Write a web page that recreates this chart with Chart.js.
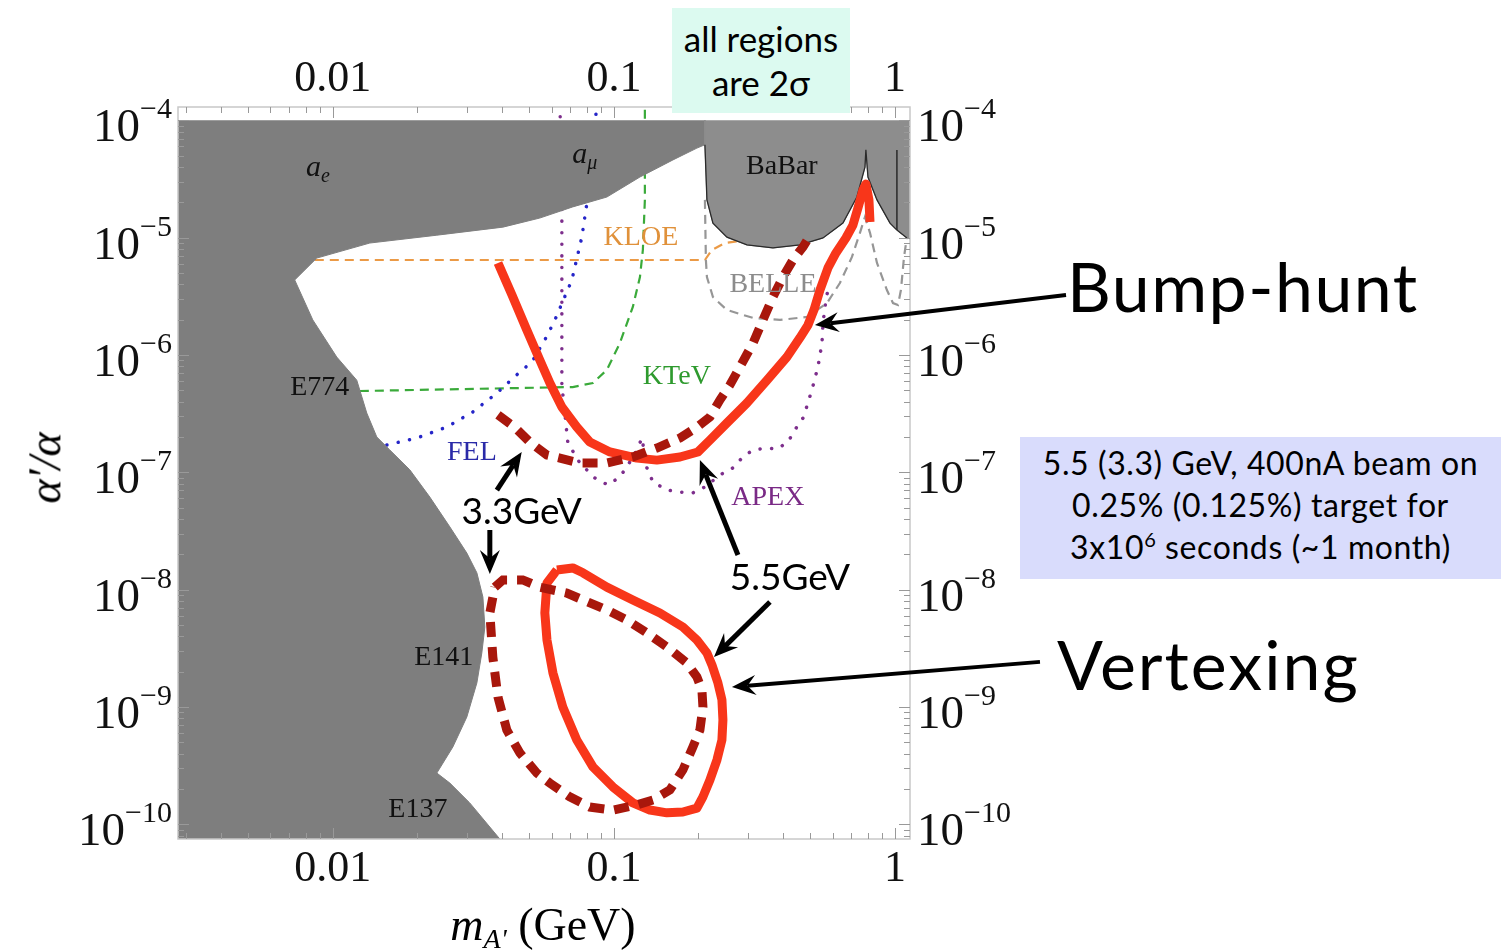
<!DOCTYPE html>
<html><head><meta charset="utf-8">
<script src="https://cdn.jsdelivr.net/npm/chart.js@4.4.1/dist/chart.umd.min.js"></script>
<style>
html,body{margin:0;padding:0;background:#fff;width:1507px;height:950px;overflow:hidden;}
#wrap{position:relative;width:1507px;height:950px;}
canvas{position:absolute;left:0;top:0;}
.note{position:absolute;font-family:Lato,'Open Sans',sans-serif;color:#000;white-space:nowrap;}
.serif{position:absolute;font-family:'Liberation Serif','DejaVu Serif',serif;color:#000;white-space:nowrap;line-height:1.2;}
</style></head><body>
<div id="wrap">
<canvas id="c" width="1507" height="950"></canvas>
<div class="note" style="left:672px;top:8px;width:178px;height:105px;background:#dcfaf0;font-size:35px;line-height:44px;padding-top:8px;box-sizing:border-box;text-align:center">all regions<br>are 2σ</div>
<div class="note" style="left:1020px;top:437px;width:481px;height:142px;background:#d9dcfc;font-size:32px;letter-spacing:0.6px;line-height:42px;padding-top:5px;box-sizing:border-box;text-align:center">5.5 (3.3) GeV, 400nA beam on<br>0.25% (0.125%) target for<br>3x10<sup style="font-size:20px;vertical-align:12px;line-height:0">6</sup> seconds (~1 month)</div>
<div class="note" style="left:1067px;top:245px;font-size:68px;letter-spacing:1.5px;line-height:1.2">Bump-hunt</div>
<div class="note" style="left:1057px;top:623px;font-size:68px;letter-spacing:2px;line-height:1.2">Vertexing</div>
<div class="serif" style="left:45px;top:468px;font-size:46px;font-style:italic;transform:translate(-50%,-50%) rotate(-90deg)">α′/α</div>
<div class="serif" style="left:543px;top:897px;font-size:46px;transform:translateX(-50%)"><i>m</i><sub style="font-size:28px;vertical-align:-8px;line-height:0"><i>A'</i></sub> (GeV)</div>
</div>
<script>
// ---------- axis ticks ----------
const xTickValues = [0.01, 0.1, 1];
const xTickLabels = ['0.01', '0.1', '1'];
const yTickValues = [1e-4, 1e-5, 1e-6, 1e-7, 1e-8, 1e-9, 1e-10];
const yTickExponents = ['\u22124', '\u22125', '\u22126', '\u22127', '\u22128', '\u22129', '\u221210'];

// ---------- excluded regions (filled) ----------
const excludedMass = [0.002, 0.002, 0.0452, 0.0362, 0.0307, 0.0261, 0.02345, 0.02673, 0.02998, 0.03255, 0.0339, 0.03475, 0.0342, 0.03255, 0.02998, 0.0261, 0.02214, 0.01879, 0.01595, 0.01434, 0.01321, 0.01217, 0.01033, 0.00849, 0.00732, 0.00877, 0.01354, 0.02345, 0.0403, 0.0545, 0.0714, 0.0944, 0.1238, 0.1622, 0.1974, 0.2108, 0.2108];
const excludedCoupling = [1e-4, 5e-11, 5e-11, 9.46e-11, 1.52e-10, 2.24e-10, 2.73e-10, 4.55e-10, 8.2e-10, 1.6e-9, 2.88e-9, 4.8e-9, 8.65e-9, 1.39e-8, 2.05e-8, 3.42e-8, 6.15e-8, 1.05e-7, 1.55e-7, 2.0e-7, 3.2e-7, 6.1e-7, 9.6e-7, 1.99e-6, 4.36e-6, 6.7e-6, 9.0e-6, 1.05e-5, 1.23e-5, 1.47e-5, 1.83e-5, 2.22e-5, 3.29e-5, 4.6e-5, 5.8e-5, 6.2e-5, 1e-4];

const babarMass = [0.2108, 0.2108, 0.2143, 0.2251, 0.2524, 0.2974, 0.368, 0.459, 0.5545, 0.653, 0.732, 0.782, 0.788, 0.8015, 0.863, 0.96, 1.016, 1.103, 1.2, 1.2];
const babarCoupling = [1e-4, 6.2e-5, 2.1e-5, 1.33e-5, 1.01e-5, 8.67e-6, 8.17e-6, 8.67e-6, 9.94e-6, 1.33e-5, 2.22e-5, 4.0e-5, 5.6e-5, 3.29e-5, 2.1e-5, 1.33e-5, 1.16e-5, 9.94e-6, 9.3e-6, 1e-4];
const upsilonMass = [1.016, 1.016];
const upsilonCoupling = [5.6e-5, 1.16e-5];

// ---------- existing limits (lines) ----------
const kloeMass = [0.00863, 0.2108, 0.2233, 0.248, 0.30];
const kloeCoupling = [6.45e-6, 6.45e-6, 7.86e-6, 9.0e-6, 9.6e-6];
const ktevMass = [0.01248, 0.0714, 0.0842, 0.0944, 0.105, 0.1168, 0.1238, 0.1268, 0.1289, 0.1289];
const ktevCoupling = [4.93e-7, 5.33e-7, 5.77e-7, 7.45e-7, 1.26e-6, 2.57e-6, 4.62e-6, 7.86e-6, 2.1e-5, 1.35e-4];
const felMass = [0.01557, 0.0199, 0.02544, 0.0315, 0.03835, 0.0463, 0.0511, 0.0578, 0.0617, 0.0709, 0.0769, 0.0802, 0.087];
const felCoupling = [1.71e-7, 1.96e-7, 2.43e-7, 3.27e-7, 4.74e-7, 7.16e-7, 8.71e-7, 1.45e-6, 1.99e-6, 4.36e-6, 1.01e-5, 1.98e-5, 1.35e-4];
const apexMass = [0.0643, 0.0653, 0.0653, 0.0669, 0.0686, 0.0757, 0.0856, 0.0952, 0.105, 0.1122, 0.1208, 0.1258, 0.1311, 0.1377, 0.1544, 0.1718, 0.191, 0.2108, 0.2383, 0.2652, 0.2877, 0.3125, 0.3504, 0.3803, 0.416, 0.4406, 0.4707, 0.4903, 0.5108, 0.532, 0.55, 0.5545, 0.568, 0.582];
const apexCoupling = [1.35e-4, 1.98e-5, 5.55e-7, 3.2e-7, 1.78e-7, 1.2e-7, 8.94e-8, 7.8e-8, 9.12e-8, 1.15e-7, 1.55e-7, 1.96e-7, 1.09e-7, 8.26e-8, 7.06e-8, 6.79e-8, 6.67e-8, 7.5e-8, 9.48e-8, 1.09e-7, 1.35e-7, 1.55e-7, 1.61e-7, 1.58e-7, 1.81e-7, 2.3e-7, 2.9e-7, 3.9e-7, 5.44e-7, 7.9e-7, 1.26e-6, 1.87e-6, 2.94e-6, 3.95e-6];
const belleMass = [0.2108, 0.2125, 0.2143, 0.2251, 0.2524, 0.3125, 0.3898, 0.486, 0.573, 0.637, 0.703, 0.7506, 0.782, 0.815, 0.863, 0.936, 0.9838, 1.025, 1.05, 1.077, 1.112];
const belleCoupling = [2.1e-5, 6.45e-6, 4.62e-6, 3.12e-6, 2.42e-6, 2.07e-6, 1.99e-6, 2.11e-6, 2.77e-6, 4.11e-6, 6.85e-6, 1.1e-5, 1.5e-5, 1.1e-5, 6.09e-6, 3.58e-6, 2.77e-6, 2.67e-6, 3.58e-6, 6.85e-6, 1.16e-5];

// ---------- projected reach ----------
const bump55Mass = [0.0387, 0.0434, 0.049, 0.0545, 0.0592, 0.0653, 0.0738, 0.0821, 0.0968, 0.1208, 0.1422, 0.1718, 0.199, 0.2196, 0.2524, 0.2974, 0.3504, 0.4127, 0.459, 0.4903, 0.515, 0.541, 0.5775, 0.6166, 0.669, 0.7087, 0.7384, 0.7693, 0.788, 0.808, 0.815];
const bump55Coupling = [6.09e-6, 3.25e-6, 1.63e-6, 9.07e-7, 5.77e-7, 3.6e-7, 2.43e-7, 1.81e-7, 1.49e-7, 1.32e-7, 1.27e-7, 1.35e-7, 1.49e-7, 1.88e-7, 2.63e-7, 3.9e-7, 6.1e-7, 9.6e-7, 1.4e-6, 1.8e-6, 2.42e-6, 3.58e-6, 5.52e-6, 7.41e-6, 9.94e-6, 1.28e-5, 1.79e-5, 2.55e-5, 2.87e-5, 2.1e-5, 1.36e-5];
const bump33Mass = [0.0387, 0.0444, 0.0502, 0.0578, 0.0643, 0.0757, 0.0944, 0.1168, 0.1422, 0.1718, 0.1974, 0.2196, 0.2383, 0.2587, 0.2808, 0.3125, 0.339, 0.368, 0.3995, 0.4335, 0.4707, 0.4943];
const bump33Coupling = [3.08e-7, 2.42e-7, 1.81e-7, 1.4e-7, 1.32e-7, 1.2e-7, 1.2e-7, 1.35e-7, 1.61e-7, 1.96e-7, 2.42e-7, 2.96e-7, 4.13e-7, 5.55e-7, 7.9e-7, 1.26e-6, 1.99e-6, 3.12e-6, 4.62e-6, 6.45e-6, 8.33e-6, 1.01e-5];
const vtx55Mass = [0.0627, 0.0714, 0.0776, 0.0944, 0.1168, 0.1458, 0.176, 0.1974, 0.2143, 0.2233, 0.2345, 0.2423, 0.2443, 0.2423, 0.2326, 0.2196, 0.2074, 0.1974, 0.176, 0.1544, 0.1343, 0.1168, 0.0992, 0.0842, 0.0738, 0.0658, 0.0607, 0.0578, 0.0568, 0.0578, 0.0627];
const vtx55Coupling = [1.47e-8, 1.53e-8, 1.39e-8, 1.05e-8, 8.15e-9, 6.32e-9, 4.8e-9, 3.72e-9, 2.88e-9, 2.28e-9, 1.6e-9, 1.15e-9, 7.73e-10, 5.22e-10, 3.53e-10, 2.38e-10, 1.71e-10, 1.37e-10, 1.27e-10, 1.25e-10, 1.32e-10, 1.52e-10, 2.08e-10, 3.08e-10, 5.22e-10, 9.98e-10, 1.95e-9, 3.72e-9, 6.32e-9, 1.14e-8, 1.47e-8];
const vtx33Mass = [0.0377, 0.0403, 0.0474, 0.0545, 0.068, 0.0776, 0.0944, 0.1113, 0.1311, 0.1544, 0.1819, 0.1974, 0.2057, 0.2074, 0.2023, 0.191, 0.176, 0.1582, 0.1377, 0.1208, 0.0992, 0.0821, 0.0697, 0.0592, 0.0532, 0.0463, 0.0416, 0.0387, 0.0371, 0.0362, 0.0377];
const vtx33Coupling = [1.05e-8, 1.21e-8, 1.21e-8, 1.05e-8, 9.35e-9, 8.15e-9, 6.7e-9, 5.5e-9, 4.27e-9, 3.24e-9, 2.37e-9, 1.8e-9, 1.39e-9, 9.98e-10, 6.35e-10, 4.55e-10, 2.9e-10, 1.96e-10, 1.61e-10, 1.46e-10, 1.32e-10, 1.4e-10, 1.71e-10, 2.24e-10, 2.73e-10, 4.05e-10, 6.35e-10, 1.21e-9, 2.66e-9, 6.32e-9, 1.05e-8];

// ---------- labels inside the plot ----------
const regionLabels = [
  {text: 'BaBar', m: 0.396, c: 4.0e-5, color: '#111'},
  {text: 'KLOE', m: 0.1248, c: 1.01e-5, color: '#e0913a'},
  {text: 'BELLE', m: 0.368, c: 3.95e-6, color: '#8c8c8c'},
  {text: 'KTeV', m: 0.1675, c: 6.5e-7, color: '#2e9a2e'},
  {text: 'E774', m: 0.00899, c: 5.23e-7, color: '#111'},
  {text: 'FEL', m: 0.03125, c: 1.46e-7, color: '#2a2aa8'},
  {text: 'APEX', m: 0.353, c: 6.04e-8, color: '#7a2a86'},
  {text: 'E141', m: 0.02483, c: 2.61e-9, color: '#111'},
  {text: 'E137', m: 0.02007, c: 1.32e-10, color: '#111'}
];
const subLabels = [
  {base: 'a', sub: 'e', m: 0.00885, c: 3.78e-5},
  {base: 'a', sub: '\u03bc', m: 0.0788, c: 4.88e-5}
];
const energyLabels = [
  {text: '3.3GeV', m: 0.047, c: 4.59e-8},
  {text: '5.5GeV', m: 0.423, c: 1.26e-8}
];
const arrows = [
  {m0: 4.06, c0: 3.25e-6, m1: 0.519, c1: 1.8e-6, w: 4},
  {m0: 3.28, c0: 2.42e-9, m1: 0.263, c1: 1.48e-9, w: 4},
  {m0: 0.03835, c0: 7.06e-8, m1: 0.047, c1: 1.49e-7, w: 5},
  {m0: 0.0362, c0: 3.22e-8, m1: 0.0362, c1: 1.36e-8, w: 5},
  {m0: 0.2763, c0: 1.97e-8, m1: 0.2023, c1: 1.27e-7, w: 5},
  {m0: 0.359, c0: 7.83e-9, m1: 0.227, c1: 2.66e-9, w: 5}
];

const pts = (xs, ys) => xs.map((v, i) => ({x: v, y: ys[i]}));

const GRAY = '#7e7e7e';
const datasets = [
  {data: pts(kloeMass, kloeCoupling), borderColor: '#eb9a46', borderWidth: 2.2, borderDash: [9, 6], order: 100},
  {data: pts(ktevMass, ktevCoupling), borderColor: '#3aaa3a', borderWidth: 2.2, borderDash: [9, 6], order: 99},
  {data: pts(felMass, felCoupling), borderColor: '#2525c8', borderWidth: 3.5, borderDash: [0.1, 11.5], borderCapStyle: 'round', order: 98},
  {data: pts(apexMass, apexCoupling), borderColor: '#7d2e8c', borderWidth: 3.5, borderDash: [0.1, 11.5], borderCapStyle: 'round', order: 97},
  {data: pts(belleMass, belleCoupling), borderColor: '#969696', borderWidth: 2.2, borderDash: [9, 6], order: 96},
  {data: pts(excludedMass, excludedCoupling), borderColor: GRAY, backgroundColor: GRAY, borderWidth: 1, fill: 'shape', order: 50},
  {data: pts(babarMass, babarCoupling), borderColor: '#8d8d8d', backgroundColor: '#8d8d8d', borderWidth: 1, fill: 'shape', order: 49},
  {data: pts(babarMass.slice(1, -2), babarCoupling.slice(1, -2)), borderColor: '#2a2a2a', borderWidth: 1.3, order: 48},
  {data: pts(upsilonMass, upsilonCoupling), borderColor: '#2a2a2a', borderWidth: 1.5, order: 47},
  {data: pts(vtx55Mass, vtx55Coupling), borderColor: '#f8361a', borderWidth: 9, borderJoinStyle: 'round', order: 12},
  {data: pts(bump55Mass, bump55Coupling), borderColor: '#f8361a', borderWidth: 9, borderJoinStyle: 'round', order: 11},
  {data: pts(vtx33Mass, vtx33Coupling), borderColor: '#a8170c', borderWidth: 9, borderDash: [15, 10], order: 10},
  {data: pts(bump33Mass, bump33Coupling), borderColor: '#a8170c', borderWidth: 9, borderDash: [15, 10], order: 9}
].map(d => Object.assign({xAxisID: 'x', yAxisID: 'y', pointRadius: 0, tension: 0, fill: false}, d));

const SERIF = "'Liberation Serif','DejaVu Serif',serif";
const SANS = "Lato,'Open Sans',sans-serif";

function drawArrow(ctx, x0, y0, x1, y1, w) {
  const a = Math.atan2(y1 - y0, x1 - x0), ca = Math.cos(a), sa = Math.sin(a);
  const L = 24, W = 10, back = L * 0.65;
  ctx.lineWidth = w; ctx.lineCap = 'butt';
  ctx.beginPath(); ctx.moveTo(x0, y0); ctx.lineTo(x1 - ca * back, y1 - sa * back); ctx.stroke();
  ctx.beginPath();
  ctx.moveTo(x1, y1);
  ctx.lineTo(x1 - ca * L + sa * W, y1 - sa * L - ca * W);
  ctx.lineTo(x1 - ca * back, y1 - sa * back);
  ctx.lineTo(x1 - ca * L - sa * W, y1 - sa * L + ca * W);
  ctx.closePath(); ctx.fill();
}

const decor = {
  id: 'decor',
  afterDatasetsDraw(chart) {
    const {ctx, scales: {x, y}} = chart;
    ctx.save();
    ctx.textAlign = 'center'; ctx.textBaseline = 'middle';
    ctx.font = '28px ' + SERIF;
    for (const L of regionLabels) {
      ctx.fillStyle = L.color;
      ctx.fillText(L.text, x.getPixelForValue(L.m), y.getPixelForValue(L.c));
    }
    ctx.fillStyle = '#111';
    for (const L of subLabels) {
      const px = x.getPixelForValue(L.m), py = y.getPixelForValue(L.c);
      ctx.textAlign = 'left'; ctx.textBaseline = 'alphabetic';
      ctx.font = 'italic 30px ' + SERIF;
      const bw = ctx.measureText(L.base).width;
      ctx.font = 'italic 20px ' + SERIF;
      const sw = ctx.measureText(L.sub).width;
      const sx = px - (bw + sw) / 2;
      ctx.font = 'italic 30px ' + SERIF;
      ctx.fillText(L.base, sx, py + 6);
      ctx.font = 'italic 20px ' + SERIF;
      ctx.fillText(L.sub, sx + bw, py + 12);
    }
    ctx.restore();
  },
  afterDraw(chart) {
    const {ctx, chartArea: A, scales: {x, y}} = chart;
    ctx.save();
    // frame
    ctx.strokeStyle = '#c8c8c8'; ctx.lineWidth = 1.5;
    ctx.strokeRect(A.left, A.top, A.right - A.left, A.bottom - A.top);
    // tick marks (inward)
    ctx.strokeStyle = '#999'; ctx.lineWidth = 1;
    ctx.beginPath();
    for (let e = -3; e <= 0; e++) for (let k = 1; k <= 9; k++) {
      const v = k * Math.pow(10, e);
      if (v < x.min || v > x.max) continue;
      const px = Math.round(x.getPixelForValue(v)) + 0.5, len = k === 1 ? 11 : 6;
      ctx.moveTo(px, A.bottom); ctx.lineTo(px, A.bottom - len);
      ctx.moveTo(px, A.top); ctx.lineTo(px, A.top + len);
    }
    for (let e = -11; e <= -4; e++) for (let k = 1; k <= 9; k++) {
      const v = k * Math.pow(10, e);
      if (v < y.min || v > y.max) continue;
      const py = Math.round(y.getPixelForValue(v)) + 0.5, len = k === 1 ? 11 : 6;
      ctx.moveTo(A.left, py); ctx.lineTo(A.left + len, py);
      ctx.moveTo(A.right, py); ctx.lineTo(A.right - len, py);
    }
    ctx.stroke();
    // tick labels
    ctx.fillStyle = '#111';
    ctx.textAlign = 'center'; ctx.textBaseline = 'alphabetic';
    ctx.font = '44px ' + SERIF;
    xTickValues.forEach((v, i) => {
      const px = x.getPixelForValue(v);
      ctx.fillText(xTickLabels[i], px, A.top - 16);
      ctx.fillText(xTickLabels[i], px, A.bottom + 42);
    });
    ctx.textAlign = 'left';
    const BF = '47px ' + SERIF, EF = '30px ' + SERIF;
    yTickValues.forEach((v, i) => {
      const py = y.getPixelForValue(v);
      ctx.font = BF; const bw = ctx.measureText('10').width;
      ctx.font = EF; const ew = ctx.measureText(yTickExponents[i]).width;
      // left side
      let sx = A.left - 6 - bw - ew;
      ctx.font = BF; ctx.fillText('10', sx, py + 21);
      ctx.font = EF; ctx.fillText(yTickExponents[i], sx + bw, py - 2);
      // right side
      sx = A.right + 7;
      ctx.font = BF; ctx.fillText('10', sx, py + 21);
      ctx.font = EF; ctx.fillText(yTickExponents[i], sx + bw, py - 2);
    });
    // energy labels and arrows
    ctx.fillStyle = '#000'; ctx.strokeStyle = '#000';
    ctx.font = '37px ' + SANS; ctx.textAlign = 'center'; ctx.textBaseline = 'middle';
    for (const L of energyLabels) ctx.fillText(L.text, x.getPixelForValue(L.m), y.getPixelForValue(L.c));
    for (const r of arrows) {
      drawArrow(ctx, x.getPixelForValue(r.m0), y.getPixelForValue(r.c0), x.getPixelForValue(r.m1), y.getPixelForValue(r.c1), r.w);
    }
    ctx.restore();
  }
};

const hidden = {display: false};
new Chart(document.getElementById('c'), {
  type: 'line',
  data: {datasets},
  options: {
    responsive: false, animation: false, devicePixelRatio: 1,
    layout: {padding: 0},
    plugins: {legend: hidden, tooltip: {enabled: false}},
    scales: {
      x: {type: 'logarithmic', position: 'bottom', min: 0.002814, max: 1.131, ticks: hidden, grid: hidden, border: hidden, afterFit: s => { s.height = 111; }},
      x2: {type: 'logarithmic', position: 'top', min: 0.002814, max: 1.131, ticks: hidden, grid: hidden, border: hidden, afterFit: s => { s.height = 107; }},
      y: {type: 'logarithmic', position: 'left', min: 7.48e-11, max: 1.3e-4, ticks: hidden, grid: hidden, border: hidden, afterFit: s => { s.width = 178; }},
      y2: {type: 'logarithmic', position: 'right', min: 7.48e-11, max: 1.3e-4, ticks: hidden, grid: hidden, border: hidden, afterFit: s => { s.width = 597; }}
    }
  },
  plugins: [decor]
});
</script>
</body></html>
